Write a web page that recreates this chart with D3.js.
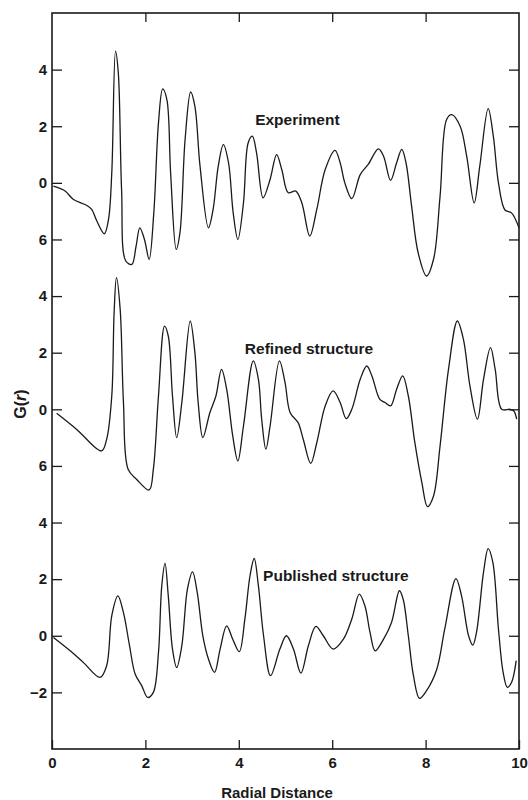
<!DOCTYPE html>
<html>
<head>
<meta charset="utf-8">
<script src="https://cdn.jsdelivr.net/npm/d3@7"></script>
<style>
  html, body { margin: 0; padding: 0; background: #fff; }
  svg { display: block; font-family: "Liberation Sans", Arial, sans-serif; }
</style>
</head>
<body>
<svg id="chart" width="528" height="800"></svg>
<script>
// radial distance r and G(r), one pair of arrays per curve
const expR = [0.03,0.28,0.46,0.74,0.85,0.96,1.12,1.21,1.28,1.36,1.42,1.49,1.58,1.71,1.80,1.88,1.98,2.08,2.18,2.28,2.37,2.46,2.54,2.66,2.74,2.85,2.97,3.06,3.17,3.35,3.45,3.56,3.67,3.78,3.88,3.98,4.10,4.20,4.29,4.38,4.52,4.67,4.81,4.92,5.06,5.22,5.35,5.52,5.67,5.85,6.06,6.17,6.27,6.42,6.60,6.77,6.99,7.10,7.25,7.38,7.49,7.58,7.70,7.84,8.02,8.17,8.31,8.45,8.56,8.74,8.88,9.04,9.16,9.34,9.45,9.56,9.70,9.84,10.0];
const expG = [-0.12,-0.29,-0.59,-0.79,-0.94,-1.35,-1.80,-1.29,0.35,4.65,3.88,-0.24,-2.76,-2.88,-2.24,-1.59,-2.00,-2.70,-1.06,2.12,3.32,2.94,0.35,-2.35,-1.76,1.53,3.21,2.70,0.59,-1.59,-0.94,0.59,1.35,0.71,-1.06,-2.00,-0.71,1.41,1.65,1.06,-0.53,0.12,1.00,0.47,-0.35,-0.29,-0.71,-1.88,-0.94,0.47,1.15,0.71,0.00,-0.56,0.29,0.65,1.20,0.94,0.09,0.71,1.18,0.71,-0.82,-2.47,-3.29,-2.70,-0.47,2.24,2.41,2.00,0.94,-0.71,0.59,2.62,1.65,0.00,-0.96,-1.06,-1.59];

const refR = [0.10,0.53,1.06,1.17,1.28,1.33,1.38,1.46,1.53,1.63,1.81,2.08,2.17,2.28,2.41,2.49,2.58,2.67,2.78,2.96,3.06,3.13,3.23,3.38,3.51,3.63,3.74,3.87,3.98,4.10,4.31,4.42,4.49,4.58,4.67,4.87,4.99,5.10,5.27,5.38,5.54,5.67,5.85,6.02,6.17,6.30,6.42,6.60,6.74,6.85,7.02,7.13,7.25,7.38,7.51,7.63,7.77,7.92,8.04,8.17,8.31,8.49,8.68,8.81,8.95,9.11,9.24,9.39,9.49,9.63,9.81,9.89,9.95];
const refG = [-0.14,-0.71,-1.47,-1.06,0.47,3.41,4.65,3.53,0.24,-2.12,-2.47,-2.85,-2.12,0.47,2.94,2.59,0.47,-1.00,0.24,3.12,2.00,0.24,-1.00,-0.12,0.47,1.41,0.71,-0.94,-1.82,-0.59,1.71,1.06,-0.35,-1.41,-0.59,1.71,0.94,-0.12,-0.47,-1.06,-1.91,-1.18,0.12,0.65,0.24,-0.33,0.00,1.06,1.53,1.18,0.35,0.24,0.12,0.71,1.18,0.47,-1.18,-2.59,-3.44,-3.06,-1.29,1.41,3.12,2.47,0.82,-0.35,1.06,2.18,1.41,0.00,0.00,-0.06,-0.35];

const pubR = [0.03,0.39,0.67,1.03,1.17,1.28,1.41,1.53,1.66,1.78,1.92,2.05,2.17,2.28,2.35,2.42,2.49,2.58,2.67,2.78,2.90,3.01,3.11,3.23,3.35,3.48,3.60,3.74,3.87,4.01,4.13,4.24,4.33,4.42,4.53,4.68,4.88,5.02,5.17,5.33,5.49,5.65,5.81,6.02,6.24,6.42,6.58,6.70,6.81,6.92,7.10,7.27,7.44,7.52,7.63,7.74,7.87,8.02,8.24,8.41,8.65,8.77,8.92,9.01,9.09,9.24,9.34,9.44,9.56,9.66,9.75,9.84,9.94];
const pubG = [-0.06,-0.53,-0.94,-1.47,-1.06,0.71,1.41,0.82,-0.35,-1.35,-1.76,-2.18,-2.00,-0.59,1.76,2.56,1.41,-0.47,-1.12,-0.35,1.65,2.26,1.53,0.00,-0.82,-1.29,-0.47,0.35,-0.12,-0.56,0.59,2.12,2.73,1.76,0.00,-1.41,-0.47,0.00,-0.47,-1.32,-0.35,0.33,0.00,-0.47,-0.12,0.59,1.47,1.06,0.12,-0.53,-0.12,0.47,1.59,1.29,0.00,-1.41,-2.21,-1.94,-1.18,0.24,2.02,1.41,0.00,-0.33,0.12,2.24,3.08,2.59,0.24,-1.29,-1.82,-1.65,-0.88];

const seriesNames = ["Experiment", "Refined structure", "Published structure"];
const seriesOffsets = [16, 8, 0];          // vertical shift of each curve, in G(r) units

const xTicks = [0, 2, 4, 6, 8, 10];
const yTicks = [-2, 0, 2, 4, 6, 8, 10, 12, 14, 16, 18, 20];
const yTickLabels = ["\u22122", "0", "2", "4", "6", "0", "2", "4", "6", "0", "2", "4"];

const mLeft = 52, mRight = 519, mTop = 13, mBottom = 749;

const svg = d3.select("#chart");

const x = d3.scaleLinear().domain([0, 10]).range([mLeft, mRight]);
const y = d3.scaleLinear().domain([-4, 22]).range([mBottom, mTop]);

const ink = "#1a1a1a";

// axes, ticks pointing inward
const gLeft = svg.append("g")
  .attr("transform", `translate(${mLeft},0)`)
  .call(d3.axisLeft(y).tickValues(yTicks)
    .tickFormat((d, i) => yTickLabels[i])
    .tickSize(-10).tickPadding(5));

const gRight = svg.append("g")
  .attr("transform", `translate(${mRight},0)`)
  .call(d3.axisRight(y).tickValues(yTicks).tickFormat("").tickSize(-10));

const gBottom = svg.append("g")
  .attr("transform", `translate(0,${mBottom})`)
  .call(d3.axisBottom(x).tickValues(xTicks).tickSize(-9).tickPadding(8));

const gTop = svg.append("g")
  .attr("transform", `translate(0,${mTop})`)
  .call(d3.axisTop(x).tickValues(xTicks.slice(1, -1)).tickFormat("").tickSize(-9));

[gLeft, gRight, gBottom, gTop].forEach(g => {
  g.select(".domain").remove();
  g.selectAll(".tick line").attr("stroke", ink).attr("stroke-width", 1.3);
  g.selectAll(".tick text")
    .attr("fill", ink)
    .style("font-size", "15px")
    .style("font-weight", "bold")
    .style("font-family", "'Liberation Sans', Arial, sans-serif");
});

// frame
svg.append("rect")
  .attr("x", mLeft).attr("y", mTop)
  .attr("width", mRight - mLeft).attr("height", mBottom - mTop)
  .attr("fill", "none").attr("stroke", ink).attr("stroke-width", 1.6);

// curves
const series = [
  { r: expR, g: expG },
  { r: refR, g: refG },
  { r: pubR, g: pubG }
];

series.forEach((s, k) => {
  const pts = s.r.map((r, i) => [r, s.g[i] + seriesOffsets[k]]);
  const line = d3.line()
    .x(d => x(d[0]))
    .y(d => y(d[1]))
    .curve(d3.curveCatmullRom.alpha(0.5));
  svg.append("path")
    .datum(pts)
    .attr("d", line)
    .attr("fill", "none")
    .attr("stroke", ink)
    .attr("stroke-width", 1.3)
    .attr("stroke-linejoin", "round");
});

// curve labels
const labelPos = [[4.35, 18.05], [4.13, 9.95], [4.52, 1.93]];
seriesNames.forEach((name, k) => {
  svg.append("text")
    .attr("x", x(labelPos[k][0]))
    .attr("y", y(labelPos[k][1]))
    .attr("fill", ink)
    .style("font-size", "15.5px")
    .style("font-weight", "bold")
    .text(name);
});

// axis titles
svg.append("text")
  .attr("x", 277).attr("y", 798)
  .attr("text-anchor", "middle")
  .attr("fill", ink)
  .style("font-size", "15px")
  .style("font-weight", "bold")
  .text("Radial Distance");

svg.append("text")
  .attr("transform", "translate(26,404) rotate(-90)")
  .attr("text-anchor", "middle")
  .attr("fill", ink)
  .style("font-size", "16px")
  .style("font-weight", "bold")
  .html('G(<tspan font-style="italic">r</tspan>)');
</script>
</body>
</html>
